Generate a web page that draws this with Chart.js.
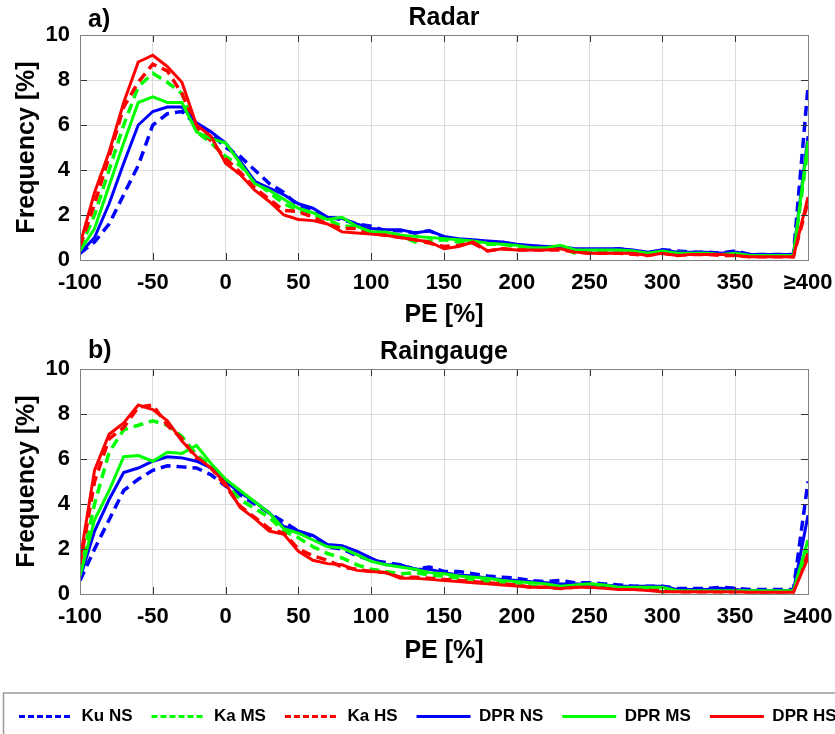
<!DOCTYPE html>
<html><head><meta charset="utf-8">
<script src="https://cdn.jsdelivr.net/npm/chart.js@4"></script>
<style>
html,body{margin:0;padding:0;background:#fff;width:835px;height:734px;overflow:hidden;position:relative}
#c1{position:absolute;left:0;top:0}
#c2{position:absolute;left:0;top:330px}
</style></head><body>
<canvas id="c1" width="900" height="330" style="width:900px;height:330px"></canvas>
<canvas id="c2" width="900" height="405" style="width:900px;height:405px"></canvas>
<script>
// ---- data ----
const pe = [-100,-90,-80,-70,-60,-50,-40,-30,-20,-10,0,10,20,30,40,50,60,70,80,90,100,110,120,130,140,150,160,170,180,190,200,210,220,230,240,250,260,270,280,290,300,310,320,330,340,350,360,370,380,390,400];
const xTickValues = [-100,-50,0,50,100,150,200,250,300,350,400];
const xTickLabels = ['-100','-50','0','50','100','150','200','250','300','350','≥400'];
const yTickValues = [0,2,4,6,8,10];
const seriesNames = ['Ku NS','Ka MS','Ka HS','DPR NS','DPR MS','DPR HS'];

const radarKuNS = [0.3,0.8,1.6,2.9,4.2,6.0,6.5,6.6,6.0,5.6, 5.0,4.6,4.0,3.4,3.0,2.4,2.2,1.9,1.8,1.6, 1.5,1.3,1.3,1.2,1.3,1.0,0.9,0.85,0.8,0.8, 0.65,0.6,0.55,0.6,0.45,0.45,0.45,0.5,0.4,0.3, 0.45,0.4,0.35,0.35,0.3,0.4,0.25,0.25,0.25,0.25, 7.7];
const radarKaMS = [0.5,2.0,4.0,6.0,7.7,8.3,7.9,7.4,5.7,5.2, 4.6,4.2,3.5,3.0,2.5,2.2,2.0,1.8,1.5,1.5, 1.3,1.2,1.1,0.8,0.85,0.9,0.8,0.75,0.7,0.7, 0.6,0.55,0.5,0.55,0.3,0.4,0.45,0.45,0.4,0.3, 0.35,0.35,0.3,0.3,0.25,0.3,0.2,0.2,0.2,0.2, 5.0];
const radarKaHS = [0.6,2.5,4.6,6.8,7.9,8.7,8.4,7.4,5.9,5.3, 4.5,3.9,3.2,2.7,2.2,2.15,1.9,1.6,1.4,1.4, 1.2,1.1,1.0,0.9,0.75,0.6,0.65,0.75,0.4,0.5, 0.45,0.45,0.45,0.45,0.35,0.3,0.3,0.3,0.25,0.2, 0.3,0.2,0.25,0.25,0.2,0.2,0.15,0.15,0.15,0.15, 2.6];
const radarDPRNS = [0.3,1.0,2.5,4.3,6.0,6.6,6.8,6.8,6.1,5.7, 5.2,4.4,3.5,3.2,2.9,2.5,2.3,1.9,1.85,1.6, 1.4,1.35,1.35,1.2,1.3,1.05,0.95,0.9,0.85,0.8, 0.7,0.65,0.6,0.6,0.5,0.5,0.5,0.5,0.45,0.35, 0.45,0.35,0.35,0.35,0.3,0.35,0.25,0.25,0.25,0.25, 5.5];
const radarDPRMS = [0.4,1.4,3.3,5.2,7.0,7.25,7.0,7.0,5.7,5.4, 5.2,4.3,3.4,3.1,2.7,2.3,2.1,1.8,1.9,1.5, 1.25,1.25,1.1,1.05,1.0,0.95,0.9,0.85,0.75,0.7, 0.65,0.55,0.55,0.65,0.45,0.45,0.45,0.45,0.4,0.3, 0.4,0.3,0.3,0.3,0.25,0.3,0.2,0.2,0.2,0.2, 5.3];
const radarDPRHS = [0.7,3.0,4.8,7.0,8.8,9.1,8.6,7.9,6.0,5.5, 4.3,3.8,3.1,2.6,2.0,1.8,1.75,1.6,1.25,1.2, 1.15,1.1,1.0,0.9,0.8,0.5,0.6,0.8,0.4,0.5, 0.45,0.45,0.45,0.5,0.35,0.3,0.3,0.3,0.3,0.2, 0.3,0.2,0.25,0.25,0.25,0.2,0.15,0.15,0.15,0.15, 2.8];

const gaugeKuNS = [0.6,2.0,3.3,4.6,5.1,5.5,5.7,5.65,5.6,5.3, 4.8,4.4,4.0,3.6,3.2,2.8,2.5,2.1,2.0,1.7, 1.5,1.4,1.3,1.1,1.2,1.0,1.0,0.9,0.8,0.75, 0.7,0.6,0.55,0.6,0.5,0.5,0.45,0.4,0.35,0.35, 0.35,0.25,0.25,0.25,0.3,0.25,0.2,0.2,0.2,0.2, 5.0];
const gaugeKaMS = [1.0,4.0,6.3,7.3,7.5,7.7,7.5,7.0,6.2,5.7, 4.9,4.2,3.8,3.4,2.8,2.5,2.1,1.8,1.6,1.3, 1.1,1.0,0.9,0.95,0.85,0.8,0.7,0.65,0.55,0.5, 0.5,0.35,0.35,0.35,0.4,0.35,0.3,0.3,0.3,0.2, 0.1,0.15,0.15,0.15,0.1,0.15,0.15,0.15,0.15,0.15, 2.0];
const gaugeKaHS = [1.3,5.0,6.9,7.4,8.3,8.4,7.5,6.9,6.0,5.6, 4.8,3.9,3.4,2.9,2.7,2.0,1.7,1.5,1.2,1.1, 1.0,0.95,0.75,0.75,0.7,0.65,0.6,0.55,0.5,0.45, 0.4,0.3,0.3,0.25,0.3,0.3,0.3,0.25,0.25,0.2, 0.15,0.1,0.1,0.1,0.1,0.1,0.1,0.1,0.1,0.1, 1.8];
const gaugeDPRNS = [0.7,2.8,4.2,5.4,5.6,5.9,6.1,6.05,5.9,5.6, 5.0,4.5,4.1,3.6,3.0,2.8,2.6,2.2,2.15,1.9, 1.6,1.3,1.3,1.1,1.1,0.95,0.85,0.8,0.7,0.65, 0.6,0.55,0.5,0.45,0.45,0.45,0.4,0.35,0.35,0.35, 0.35,0.2,0.2,0.2,0.25,0.2,0.15,0.15,0.15,0.15, 3.5];
const gaugeDPRMS = [0.8,3.3,4.6,6.1,6.15,5.9,6.3,6.25,6.6,5.8, 5.1,4.6,4.1,3.6,2.9,2.7,2.4,2.1,2.05,1.75, 1.45,1.3,1.2,1.1,0.95,0.9,0.8,0.75,0.7,0.6, 0.55,0.5,0.45,0.35,0.4,0.45,0.4,0.3,0.3,0.3, 0.3,0.15,0.15,0.15,0.15,0.15,0.15,0.15,0.15,0.15, 2.4];
const gaugeDPRHS = [1.5,5.5,7.1,7.6,8.4,8.2,7.7,6.8,6.1,5.6, 4.9,3.85,3.35,2.8,2.65,1.9,1.5,1.35,1.3,1.05, 1.0,0.95,0.7,0.7,0.65,0.6,0.55,0.5,0.45,0.4, 0.36,0.3,0.3,0.25,0.3,0.3,0.25,0.2,0.2,0.15, 0.1,0.1,0.1,0.1,0.1,0.1,0.08,0.08,0.08,0.08, 1.6];

// ---- styles ----
const FONT = "'Liberation Sans', Arial, Helvetica, sans-serif";
const seriesColors = ['#0000ff','#00ff00','#ff0000','#0000ff','#00ff00','#ff0000'];
const seriesDashed = [true,true,true,false,false,false];

Chart.defaults.font.family = FONT;
Chart.defaults.font.weight = 'bold';
Chart.defaults.color = '#000';

function makeDatasets(list){
  return list.map((vals,i)=>({
    label: seriesNames[i],
    data: pe.map((x,j)=>({x:x, y:vals[j]})),
    borderColor: seriesColors[i],
    backgroundColor: seriesColors[i],
    borderWidth: seriesDashed[i] ? 3.5 : 3,
    borderDash: seriesDashed[i] ? [10,6] : [],
    pointRadius: 0,
    tension: 0,
    order: list.length - 1 - i
  }));
}

const framePlugin = {
  id: 'frame',
  afterDraw(chart, args, opts){
    const {ctx, chartArea:a} = chart;
    const x = chart.scales.x, y = chart.scales.y;
    ctx.save();
    ctx.strokeStyle = '#333';
    ctx.lineWidth = 1;
    ctx.setLineDash([]);
    ctx.beginPath();
    x.ticks.forEach(t=>{
      const px = Math.round(x.getPixelForValue(t.value)) + 0.5;
      ctx.moveTo(px, a.top); ctx.lineTo(px, a.top + 7);
      ctx.moveTo(px, a.bottom); ctx.lineTo(px, a.bottom - 7);
    });
    y.ticks.forEach(t=>{
      const py = Math.round(y.getPixelForValue(t.value)) + 0.5;
      ctx.moveTo(a.left, py); ctx.lineTo(a.left + 7, py);
      ctx.moveTo(a.right, py); ctx.lineTo(a.right - 7, py);
    });
    ctx.stroke();
    ctx.strokeStyle = '#808080';
    ctx.strokeRect(Math.round(a.left)+0.5, Math.round(a.top)+0.5, Math.round(a.right-a.left), Math.round(a.bottom-a.top));
    ctx.fillStyle = '#000';
    ctx.font = 'bold 25px ' + FONT;
    ctx.textAlign = 'left';
    ctx.textBaseline = 'alphabetic';
    ctx.fillText(opts.label, 88, opts.labelY);
    if (opts.legendFrame && chart.legend) {
      ctx.strokeStyle = '#9a9a9a';
      ctx.lineWidth = 1.5;
      ctx.strokeRect(3.5, chart.legend.top + 4, 1000, 200);
    }
    ctx.restore();
  }
};

function baseOptions(title, titlePad, xHeight, label, labelY, legendOn){
  return {
    responsive: false,
    animation: false,
    devicePixelRatio: 1,
    layout: { padding: 0 },
    scales: {
      x: {
        type: 'linear', min: -100, max: 400,
        afterBuildTicks: s => { s.ticks = xTickValues.map(v => ({value: v})); },
        ticks: {
          callback: v => xTickLabels[xTickValues.indexOf(v)],
          font: { size: 22, weight: 'bold' }, padding: 10, maxRotation: 0, autoSkip: false, color: '#000'
        },
        grid: { color: '#dcdcdc', drawTicks: false, lineWidth: 1 },
        border: { display: false },
        title: { display: true, text: 'PE [%]', font: { size: 25, weight: 'bold' }, color: '#000',
                 padding: { top: 0, bottom: legendOn ? 23 : 0 } },
        afterFit: s => { s.height = xHeight; }
      },
      y: {
        min: 0, max: 10,
        afterBuildTicks: s => { s.ticks = yTickValues.map(v => ({value: v})); },
        ticks: { font: { size: 22, weight: 'bold' }, padding: 10, color: '#000' },
        grid: { color: '#dcdcdc', drawTicks: false, lineWidth: 1 },
        border: { display: false },
        title: { display: true, text: 'Frequency [%]', font: { size: 25, weight: 'bold' }, color: '#000',
                 padding: { top: 12, bottom: 0 } },
        afterFit: s => { s.width = 80; }
      },
      y2: {
        position: 'right', display: true, min: 0, max: 10,
        ticks: { display: false }, grid: { display: false }, border: { display: false },
        afterFit: s => { s.width = 92; }
      }
    },
    plugins: {
      title: { display: true, text: title, fullSize: false, font: { size: 25, weight: 'bold' }, color: '#000', padding: titlePad },
      tooltip: { enabled: false },
      legend: { display: false },
      frame: { label: label, labelY: labelY, legendFrame: legendOn }
    }
  };
}

// Top: Radar
const opt1 = baseOptions('Radar', {top: 3, bottom: 2}, 70, 'a)', 27, false);
new Chart(document.getElementById('c1'), {
  type: 'line',
  data: { datasets: makeDatasets([radarKuNS, radarKaMS, radarKaHS, radarDPRNS, radarDPRMS, radarDPRHS]) },
  options: opt1,
  plugins: [framePlugin]
});

// Bottom: Raingauge
const opt2 = baseOptions('Raingauge', {top: 7, bottom: 2}, 95, 'b)', 28, true);
opt2.plugins.legend = {
  display: true, position: 'bottom', align: 'start',
  labels: {
    usePointStyle: true, pointStyle: 'line', pointStyleWidth: 54,
    font: { size: 17, weight: 'bold' }, padding: 19, color: '#000',
    sort: (a, b) => a.datasetIndex - b.datasetIndex,
    generateLabels: chart => {
      const items = Chart.defaults.plugins.legend.labels.generateLabels(chart);
      items.forEach(it => {
        it.lineDash = seriesDashed[it.datasetIndex] ? [6, 3] : [];
        it.lineWidth = 3;
      });
      return items;
    }
  }
};
new Chart(document.getElementById('c2'), {
  type: 'line',
  data: { datasets: makeDatasets([gaugeKuNS, gaugeKaMS, gaugeKaHS, gaugeDPRNS, gaugeDPRMS, gaugeDPRHS]) },
  options: opt2,
  plugins: [framePlugin]
});
</script>
</body></html>
